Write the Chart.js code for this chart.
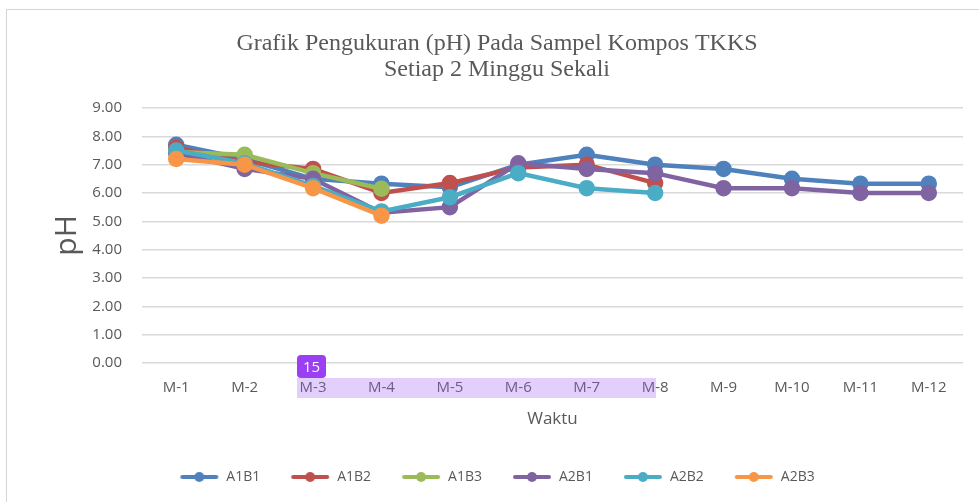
<!DOCTYPE html>
<html>
<head>
<meta charset="utf-8">
<script src="https://cdn.jsdelivr.net/npm/chart.js@4/dist/chart.umd.min.js"></script>
<style>
  html, body { margin: 0; padding: 0; background: #fff; }
  #wrap { position: relative; width: 979px; height: 502px; overflow: hidden; }
  #frame { position: absolute; left: 6px; top: 9px; width: 990px; height: 510px; border: 1px solid #d6d6d6; }
  #chart { position: absolute; left: 0; top: 0; }
  #hl { position: absolute; left: 297px; top: 378px; width: 359px; height: 20px; background: rgba(162, 95, 242, 0.3); }
  #badge { position: absolute; left: 297px; top: 355px; width: 29px; height: 23px; background: #9b3ff2; color: #fff;
           border-radius: 4px; font: 15px "Open Sans", sans-serif; text-align: center; line-height: 23px; }
</style>
</head>
<body>
<div id="wrap">
  <div id="frame"></div>
  <canvas id="chart" width="979" height="502"></canvas>
  <div id="hl"></div>
  <div id="badge">15</div>
</div>
<script>
const weeks = ["M-1", "M-2", "M-3", "M-4", "M-5", "M-6", "M-7", "M-8", "M-9", "M-10", "M-11", "M-12"];
const a1b1 = [7.70, 7.20, 6.50, 6.33, 6.20, 7.00, 7.35, 7.00, 6.85, 6.50, 6.33, 6.33];
const a1b2 = [7.60, 7.10, 6.85, 6.00, 6.35, 6.90, 7.00, 6.35];
const a1b3 = [7.45, 7.35, 6.70, 6.15];
const a2b1 = [7.40, 6.85, 6.50, 5.30, 5.50, 7.05, 6.85, 6.70, 6.17, 6.17, 6.00, 6.00];
const a2b2 = [7.50, 7.05, 6.25, 5.35, 5.85, 6.70, 6.17, 6.00];
const a2b3 = [7.20, 7.00, 6.17, 5.20];
const yTicks = [0, 1, 2, 3, 4, 5, 6, 7, 8, 9];

const names = ["A1B1", "A1B2", "A1B3", "A2B1", "A2B2", "A2B3"];
const values = [a1b1, a1b2, a1b3, a2b1, a2b2, a2b3];
const colors = ["#4f81bd", "#c0504d", "#9bbb59", "#8064a2", "#4bacc6", "#f79646"];

// little line+dot swatch for legend
function swatch(color) {
    const c = document.createElement("canvas");
    c.width = 40; c.height = 12;
    const g = c.getContext("2d");
    g.strokeStyle = color; g.lineWidth = 4; g.lineCap = "round";
    g.beginPath(); g.moveTo(3, 6); g.lineTo(37, 6); g.stroke();
    g.fillStyle = color;
    g.beginPath(); g.arc(20, 6, 5, 0, Math.PI * 2); g.fill();
    return c;
}

const grey = "#595959";
Chart.defaults.font.family = "'Open Sans', sans-serif";
Chart.defaults.color = grey;

new Chart(document.getElementById("chart"), {
    type: "line",
    data: {
        labels: weeks,
        datasets: names.map((n, i) => ({
            label: n,
            data: values[i],
            borderColor: colors[i],
            backgroundColor: colors[i],
            borderWidth: 4.5,
            pointRadius: 6,
            pointHoverRadius: 6,
            tension: 0,
            order: names.length - i
        }))
    },
    options: {
        responsive: false,
        animation: false,
        layout: { padding: { left: 31, right: 16, top: 20, bottom: 8 } },
        plugins: {
            title: {
                display: true,
                text: ["Grafik Pengukuran (pH) Pada Sampel Kompos TKKS", "Setiap 2 Minggu Sekali"],
                color: grey,
                font: { family: "'Liberation Serif', serif", size: 24, weight: "normal", lineHeight: 1.083 },
                padding: { top: 11, bottom: 25 }
            },
            legend: {
                position: "bottom",
                labels: {
                    usePointStyle: true,
                    pointStyleWidth: 40,
                    padding: 30,
                    font: { size: 14 },
                    color: grey,
                    generateLabels(chart) {
                        const items = Chart.defaults.plugins.legend.labels.generateLabels(chart);
                        items.forEach(it => { it.pointStyle = swatch(colors[it.datasetIndex]); });
                        return items.sort((a, b) => a.datasetIndex - b.datasetIndex);
                    }
                }
            },
            tooltip: { enabled: false }
        },
        scales: {
            x: {
                offset: true,
                grid: { display: false, drawTicks: false },
                border: { display: false },
                ticks: { padding: 16, font: { size: 15 }, color: grey },
                title: { display: true, text: "Waktu", font: { size: 17 }, color: grey, padding: { top: 4, bottom: 11 } },
                afterFit(s) { s.height = 77; }
            },
            y: {
                min: 0,
                max: 9,
                afterBuildTicks(s) { s.ticks = yTicks.map(v => ({ value: v })); },
                grid: { color: "#d9d9d9", lineWidth: 1.5, drawTicks: false },
                border: { display: false },
                ticks: { padding: 20, font: { size: 15 }, color: grey, callback: v => v.toFixed(2) },
                title: { display: true, text: "pH", font: { size: 30 }, color: grey, padding: { top: 18 } },
                afterFit(s) { s.width = 111; }
            }
        }
    }
});
</script>
</body>
</html>
